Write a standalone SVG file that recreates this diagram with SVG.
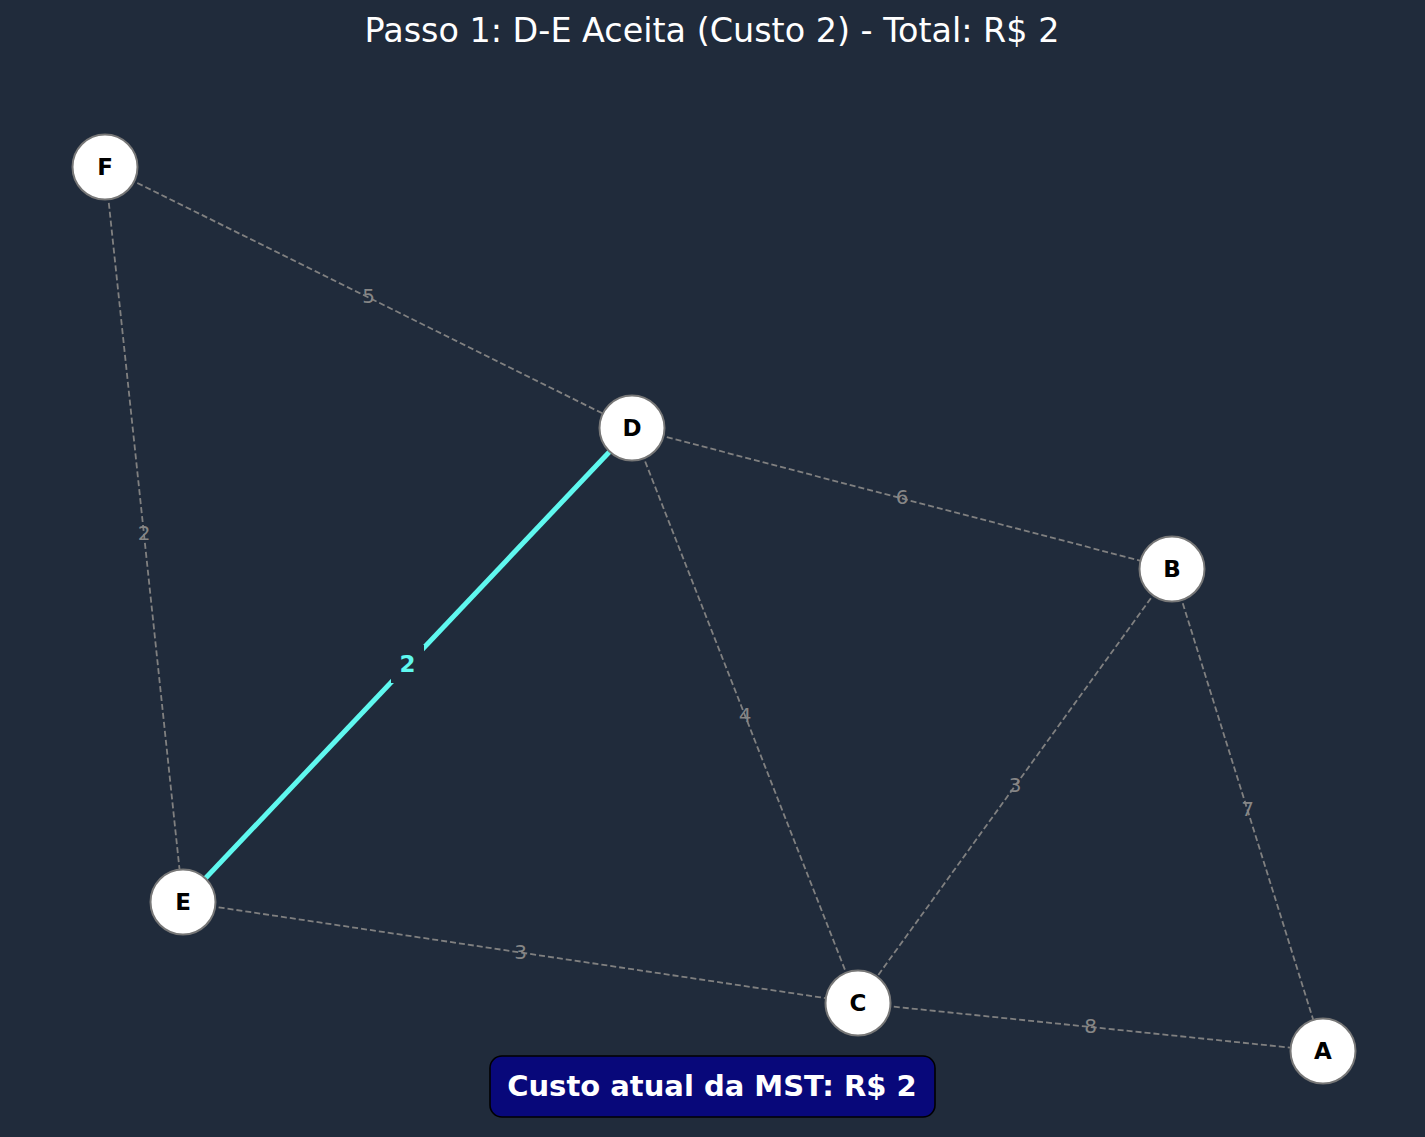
<svg xmlns="http://www.w3.org/2000/svg" width="1425" height="1137" viewBox="0 0 1425 1137">
<style>
.e{stroke:#808080;stroke-width:1.8;stroke-dasharray:6,3;fill:none}
.el{font-family:"DejaVu Sans",sans-serif;font-size:20px;fill:#868686;text-anchor:middle;dominant-baseline:central}
.n circle{fill:#ffffff;stroke:#777777;stroke-width:2}
.n text{font-family:"DejaVu Sans",sans-serif;font-size:23px;font-weight:bold;fill:#000;text-anchor:middle;dominant-baseline:central}
</style>
<rect width="1425" height="1137" fill="#202b3b"/>
<text x="712" y="30" font-family="DejaVu Sans, sans-serif" font-size="33.4" fill="#ffffff" text-anchor="middle" dominant-baseline="central">Passo 1: D-E Aceita (Custo 2) - Total: R$ 2</text>
<g id="connectors">
<line class="e" x1="105" y1="167" x2="632" y2="428"/>
<line class="e" x1="632" y1="428" x2="1172" y2="569"/>
<line class="e" x1="105" y1="167" x2="183" y2="902"/>
<line class="e" x1="632" y1="428" x2="858" y2="1003"/>
<line class="e" x1="1172" y1="569" x2="858" y2="1003"/>
<line class="e" x1="1172" y1="569" x2="1323" y2="1051"/>
<line class="e" x1="183" y1="902" x2="858" y2="1003"/>
<line class="e" x1="858" y1="1003" x2="1323" y2="1051"/>
<line x1="632" y1="428" x2="183" y2="902" stroke="#5ff8ef" stroke-width="5"/>
<text class="el" x="368.5" y="296">5</text>
<text class="el" x="902" y="497">6</text>
<text class="el" x="144" y="533">2</text>
<text class="el" x="745" y="715">4</text>
<text class="el" x="1015" y="785">3</text>
<text class="el" x="1247.5" y="809">7</text>
<text class="el" x="520.5" y="952">3</text>
<text class="el" x="1090.5" y="1026">8</text>
<rect x="391" y="645" width="33" height="38" fill="#202b3b"/>
<text x="407.5" y="664" font-family="DejaVu Sans, sans-serif" font-size="23" font-weight="bold" fill="#5ff8ef" text-anchor="middle" dominant-baseline="central">2</text>
</g>
<g id="node-F" class="n"><circle cx="105" cy="167" r="32.5"/><text x="105" y="167">F</text></g>
<g id="node-D" class="n"><circle cx="632" cy="428" r="32.5"/><text x="632" y="428">D</text></g>
<g id="node-B" class="n"><circle cx="1172" cy="569" r="32.5"/><text x="1172" y="569">B</text></g>
<g id="node-E" class="n"><circle cx="183" cy="902" r="32.5"/><text x="183" y="902">E</text></g>
<g id="node-C" class="n"><circle cx="858" cy="1003" r="32.5"/><text x="858" y="1003">C</text></g>
<g id="node-A" class="n"><circle cx="1323" cy="1051" r="32.5"/><text x="1323" y="1051">A</text></g>
<g id="cost-box">
<rect x="490" y="1056" width="445" height="61" rx="12" fill="#08087a" stroke="#000" stroke-width="1.6"/>
<text x="712" y="1086" font-family="DejaVu Sans, sans-serif" font-size="29" font-weight="bold" fill="#ffffff" text-anchor="middle" dominant-baseline="central">Custo atual da MST: R$ 2</text>
</g>
</svg>
